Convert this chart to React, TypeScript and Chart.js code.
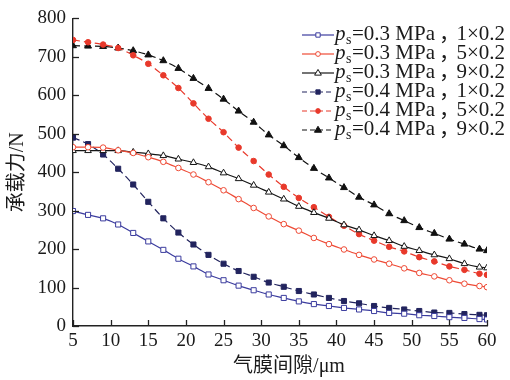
import React, { useEffect, useRef } from 'react';
import { Chart, registerables } from 'chart.js';

Chart.register(...registerables);

// Film gap (µm) at which the load capacity was evaluated
const gapUm = [5, 7, 9, 11, 13, 15, 17, 19, 21, 23, 25, 27, 29, 31, 33, 35, 37, 39, 41, 43, 45, 47, 49, 51, 53, 55, 57, 59, 60];

// Load capacity (N), supply pressure 0.3 MPa
const load03_1x02 = [299, 289, 280, 264, 242, 220, 198, 175, 155, 134, 119, 105, 93, 82, 73, 64, 57, 52, 47, 43, 39, 34, 32, 28, 26, 23, 21, 18, 17];
const load03_5x02 = [465, 465, 464, 457, 450, 439, 427, 411, 394, 374, 353, 330, 307, 285, 265, 248, 229, 213, 199, 185, 173, 162, 150, 138, 129, 119, 110, 104, 101];
const load03_9x02 = [456, 456, 456, 456, 452, 448, 443, 434, 425, 414, 398, 383, 366, 348, 330, 311, 295, 280, 263, 250, 235, 222, 207, 196, 185, 175, 162, 153, 151];

// Load capacity (N), supply pressure 0.4 MPa
const load04_1x02 = [490, 473, 446, 409, 368, 323, 280, 243, 212, 185, 162, 143, 128, 113, 102, 91, 82, 73, 65, 59, 52, 47, 43, 39, 35, 34, 31, 29, 28];
const load04_5x02 = [744, 738, 732, 723, 704, 682, 652, 619, 579, 539, 504, 464, 429, 394, 362, 333, 309, 284, 261, 239, 222, 206, 194, 179, 168, 155, 146, 136, 133];
const load04_9x02 = [729, 728, 727, 723, 716, 705, 690, 670, 644, 618, 590, 559, 530, 497, 469, 438, 410, 385, 360, 335, 315, 292, 274, 256, 241, 226, 213, 200, 196];

const supplyPressures = ['0.3', '0.3', '0.3', '0.4', '0.4', '0.4'];
const grooveSpecs = ['1×0.2', '5×0.2', '9×0.2', '1×0.2', '5×0.2', '9×0.2'];

const xTitle = '气膜间隙/μm';
const yTitle = '承载力/N';
const xRange = [5, 60];
const yRange = [0, 800];
const xStep = 5;
const yStep = 100;

const SERIF = '"Liberation Serif", "Times New Roman", "Noto Sans CJK SC", serif';

type Style = {
  color: string;
  fill: string;
  dash: number[];
  shape: 'rect' | 'circle' | 'triangle';
  radius: number;
};

const styles: Style[] = [
  { color: '#3b3c9e', fill: '#ffffff', dash: [], shape: 'rect', radius: 3.6 },
  { color: '#ee4a35', fill: '#ffffff', dash: [], shape: 'circle', radius: 2.8 },
  { color: '#161616', fill: '#ffffff', dash: [], shape: 'triangle', radius: 3.8 },
  { color: '#22245e', fill: '#22245e', dash: [7, 4], shape: 'rect', radius: 3.6 },
  { color: '#e8392b', fill: '#e8392b', dash: [7, 4], shape: 'circle', radius: 2.8 },
  { color: '#111111', fill: '#111111', dash: [7, 4], shape: 'triangle', radius: 4 },
];

const seriesValues = [load03_1x02, load03_5x02, load03_9x02, load04_1x02, load04_5x02, load04_9x02];

function drawMarker(ctx: CanvasRenderingContext2D, s: Style, x: number, y: number, r: number) {
  ctx.beginPath();
  if (s.shape === 'rect') {
    const h = r * Math.SQRT1_2;
    ctx.rect(x - h, y - h, 2 * h, 2 * h);
  } else if (s.shape === 'circle') {
    ctx.arc(x, y, r, 0, Math.PI * 2);
  } else {
    const a = r * 1.1;
    ctx.moveTo(x, y - a);
    ctx.lineTo(x + a * 0.95, y + a * 0.6);
    ctx.lineTo(x - a * 0.95, y + a * 0.6);
    ctx.closePath();
  }
  ctx.fillStyle = s.fill;
  ctx.fill();
  ctx.setLineDash([]);
  ctx.lineWidth = 1;
  ctx.strokeStyle = s.color;
  ctx.stroke();
}

// Tick marks pointing into the plot area
const innerTicks = {
  id: 'innerTicks',
  afterDraw(chart: any) {
    const { ctx, chartArea, scales } = chart;
    ctx.save();
    ctx.strokeStyle = '#222';
    ctx.lineWidth = 1.3;
    scales.x.ticks.forEach((t: any) => {
      const px = Math.round(scales.x.getPixelForValue(t.value)) + 0.5;
      ctx.beginPath();
      ctx.moveTo(px, chartArea.bottom);
      ctx.lineTo(px, chartArea.bottom - 6);
      ctx.stroke();
    });
    scales.y.ticks.forEach((t: any) => {
      const py = Math.round(scales.y.getPixelForValue(t.value)) + 0.5;
      ctx.beginPath();
      ctx.moveTo(chartArea.left, py);
      ctx.lineTo(chartArea.left + 6, py);
      ctx.stroke();
    });
    ctx.restore();
  },
};

// Legend with italic p and subscript s
const seriesLegend = {
  id: 'seriesLegend',
  afterDraw(chart: any) {
    const ctx: CanvasRenderingContext2D = chart.ctx;
    ctx.save();
    chart.data.datasets.forEach((ds: any, i: number) => {
      const s = styles[i];
      const y = 35 + i * 19;
      ctx.strokeStyle = s.color;
      ctx.lineWidth = 1.2;
      ctx.setLineDash(s.dash.length ? [5, 3] : []);
      ctx.beginPath();
      ctx.moveTo(302, y);
      ctx.lineTo(334, y);
      ctx.stroke();
      drawMarker(ctx, s, 318, y, s.radius * 0.85);

      const base = y + 4.5;
      let x = 335;
      ctx.fillStyle = '#1a1a1a';
      ctx.textBaseline = 'alphabetic';
      ctx.textAlign = 'left';
      ctx.font = `italic 21px ${SERIF}`;
      ctx.fillText('p', x, base);
      x += ctx.measureText('p').width + 0.5;
      ctx.font = `14px ${SERIF}`;
      ctx.fillText('s', x, base + 4);
      x += ctx.measureText('s').width + 0.5;
      ctx.font = `21px ${SERIF}`;
      const mid = `=${supplyPressures[i]} MPa`;
      ctx.fillText(mid, x, base);
      x += ctx.measureText(mid).width;
      ctx.font = `21px "Noto Sans CJK SC", ${SERIF}`;
      ctx.fillText('，', x + 4, base);
      ctx.textAlign = 'right';
      ctx.font = `21px ${SERIF}`;
      ctx.fillText(grooveSpecs[i], 505, base);
    });
    ctx.restore();
  },
};

// Horizontal axis title
const xAxisTitle = {
  id: 'xAxisTitle',
  afterDraw(chart: any) {
    const { ctx, chartArea } = chart;
    ctx.save();
    ctx.fillStyle = '#1a1a1a';
    ctx.font = `20px ${SERIF}`;
    ctx.textAlign = 'center';
    ctx.textBaseline = 'middle';
    ctx.fillText(xTitle, (chartArea.left + chartArea.right) / 2 + 9, 367);
    ctx.restore();
  },
};

export default function App() {
  const canvasRef = useRef<HTMLCanvasElement | null>(null);

  useEffect(() => {
    const canvas = canvasRef.current;
    if (!canvas) return;

    const datasets = seriesValues.map((vals, i) => {
      const s = styles[i];
      return {
        label: `${supplyPressures[i]} MPa ${grooveSpecs[i]}`,
        data: gapUm.map((g, k) => ({ x: g, y: vals[k] })),
        borderColor: s.color,
        backgroundColor: s.fill,
        borderWidth: 1.2,
        borderDash: s.dash,
        pointStyle: s.shape,
        pointRadius: s.radius,
        pointBorderWidth: 1,
        pointBorderColor: s.color,
        pointBackgroundColor: s.fill,
        tension: 0.3,
        cubicInterpolationMode: 'monotone' as const,
        fill: false,
      };
    });

    const chart = new Chart(canvas, {
      type: 'line',
      data: { datasets },
      options: {
        responsive: false,
        animation: false,
        devicePixelRatio: 1,
        layout: { padding: { top: 16, right: 23, left: 0, bottom: 0 } },
        plugins: {
          legend: { display: false },
          tooltip: { enabled: false },
        },
        scales: {
          x: {
            type: 'linear',
            min: xRange[0],
            max: xRange[1],
            afterFit(scale: any) {
              scale.height = 54;
            },
            ticks: {
              stepSize: xStep,
              color: '#1a1a1a',
              font: { family: SERIF, size: 19 },
              padding: 4,
              maxRotation: 0,
            },
            grid: { display: false, drawTicks: false },
            border: { display: true, color: '#222', width: 1.4 },
            title: { display: false },
          },
          y: {
            type: 'linear',
            min: yRange[0],
            max: yRange[1],
            afterFit(scale: any) {
              scale.width = 73;
            },
            ticks: {
              stepSize: yStep,
              color: '#1a1a1a',
              font: { family: SERIF, size: 19 },
              padding: 7,
            },
            grid: { display: false, drawTicks: false },
            border: { display: true, color: '#222', width: 1.4 },
            title: {
              display: true,
              text: yTitle,
              color: '#1a1a1a',
              font: { family: SERIF, size: 20 },
              padding: { top: 6, bottom: 0 },
            },
          },
        },
      },
      plugins: [innerTicks, seriesLegend, xAxisTitle],
    });

    return () => chart.destroy();
  }, []);

  return (
    <div style={{ position: 'absolute', left: 0, top: 0, width: 510, height: 380, background: '#fff' }}>
      <canvas ref={canvasRef} width={510} height={380} />
    </div>
  );
}
